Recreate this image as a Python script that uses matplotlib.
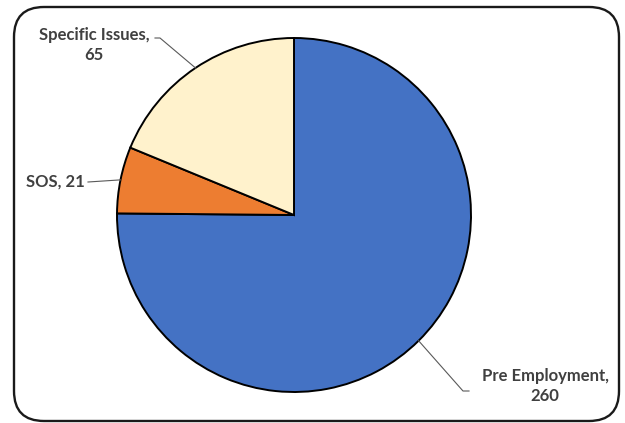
import numpy as np
import matplotlib
matplotlib.use("Agg")
import matplotlib.pyplot as plt
from matplotlib.patches import FancyBboxPatch

categories = ["Pre Employment", "SOS", "Specific Issues"]
values = [260, 21, 65]
colors = ["#4472C4", "#ED7D31", "#FFF2CC"]

W, H = 625, 423
fig = plt.figure(figsize=(W / 100, H / 100), dpi=100)
ax = fig.add_axes([0, 0, 1, 1])

cx, cy, r = 294, H - 215, 177
wedges, _ = ax.pie(values, colors=colors, startangle=90, counterclock=False,
                   center=(cx, cy), radius=r, frame=True,
                   wedgeprops=dict(edgecolor="black", linewidth=1.4))
ax.set_xlim(0, W)
ax.set_ylim(0, H)
ax.set_aspect("equal")
ax.axis("off")

# rounded frame
frame = FancyBboxPatch((14 + 30, H - 421 + 30), 605 - 60, 414 - 60,
                       boxstyle="round,pad=30", fc="white", ec="#1a1a1a",
                       lw=1.7, zorder=-1)
ax.add_patch(frame)

txt_kw = dict(fontsize=12, fontweight="bold", color="#404040",
              family=["Lato", "DejaVu Sans"], linespacing=1.3)
lc = "#595959"

# label layout: (elbow point, end point, text pos, ha)
layout = {
    "Pre Employment": ((463, 391), (469, 391), (545, 386), "center"),
    "SOS": ((88, 182), (88, 182), (55, 182), "center"),
    "Specific Issues": ((160, 38), (155, 38), (94, 45), "center"),
}

for w, cat, val in zip(wedges, categories, values):
    ang = np.deg2rad((w.theta1 + w.theta2) / 2)
    px, py = cx + r * np.cos(ang), cy + r * np.sin(ang)
    (ex, ey), (fx, fy), (tx, ty), ha = layout[cat]
    ax.plot([px, ex, fx], [py, H - ey, H - fy], color=lc, lw=0.8, zorder=3)
    if cat == "SOS":
        s = f"{cat}, {val}"
    else:
        s = f"{cat},\n{val}"
    ax.text(tx, H - ty, s, ha=ha, va="center", **txt_kw)

fig.savefig("out.png", dpi=100)
